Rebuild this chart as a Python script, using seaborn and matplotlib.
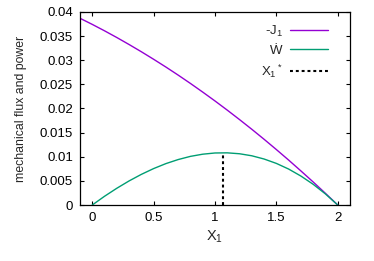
import matplotlib
matplotlib.use("Agg")
import matplotlib.pyplot as plt
import seaborn as sns
import pandas as pd
from matplotlib.ticker import FuncFormatter, MultipleLocator

# values
x1 = [-0.1, 0.0, 0.1, 0.2, 0.3, 0.4, 0.5, 0.6, 0.7, 0.8, 0.9, 1.0,
      1.1, 1.2, 1.3, 1.4, 1.5, 1.6, 1.7, 1.8, 1.9, 2.0]
minus_j1 = [0.0387, 0.03743, 0.0361, 0.03471, 0.03326, 0.03176, 0.0302,
            0.02859, 0.02692, 0.02519, 0.0234, 0.02156, 0.01966, 0.0177,
            0.01569, 0.01362, 0.01149, 0.00931, 0.00706, 0.00477, 0.00241, 0.0]
x1_w = x1[1:]
power = [0.0, 0.00181, 0.00347, 0.00499, 0.00635, 0.00755, 0.00858,
         0.00942, 0.01008, 0.01053, 0.01078, 0.01081, 0.01062, 0.0102,
         0.00953, 0.00862, 0.00745, 0.006, 0.00429, 0.00229, 0.0]
x1_star = 1.067
w_star = 0.01083

df_j = pd.DataFrame({"X1": x1, "val": minus_j1})
df_w = pd.DataFrame({"X1": x1_w, "val": power})
df_s = pd.DataFrame({"X1": [x1_star, x1_star], "val": [0.0, w_star]})

sns.set_style("ticks")
plt.rcParams["font.family"] = ["Liberation Sans", "DejaVu Sans"]
plt.rcParams["mathtext.fontset"] = "custom"
plt.rcParams["mathtext.rm"] = "Liberation Sans"
plt.rcParams["mathtext.it"] = "Liberation Sans:italic"
plt.rcParams["font.size"] = 9.5

fig = plt.figure(figsize=(3.74, 2.61), dpi=100)
ax = fig.add_axes([80/374, 1 - 205/261, 270/374, 193/261])

sns.lineplot(data=df_j, x="X1", y="val", color="#9400d3", lw=1, ax=ax, label="-J$_1$")
sns.lineplot(data=df_w, x="X1", y="val", color="#009e73", lw=1, ax=ax, label="\u1e86")
sns.lineplot(data=df_s, x="X1", y="val", color="black", lw=1.5, ax=ax,
             label="X$_1$$^*$", estimator=None, errorbar=None, sort=False)
star = ax.lines[-1]
star.set_linestyle((0, (1.4, 1.4)))

ax.set_xlim(-0.1, 2.1)
ax.set_ylim(0, 0.04)
ax.xaxis.set_major_locator(MultipleLocator(0.5))
ax.yaxis.set_major_locator(MultipleLocator(0.005))
fmt = FuncFormatter(lambda v, p: "%g" % round(v, 4))
ax.xaxis.set_major_formatter(fmt)
ax.yaxis.set_major_formatter(fmt)
ax.tick_params(direction="in", length=3, width=0.8, top=True, right=True,
               labelsize=9.5, colors="black", pad=5)
for s in ax.spines.values():
    s.set_color("black")
    s.set_linewidth(0.9)
    s.set_visible(True)

ax.set_xlabel("X$_1$", fontsize=10.5, labelpad=3)
ax.set_ylabel("mechanical flux and power", fontsize=8.8, labelpad=9)

leg = ax.legend(loc="upper right", bbox_to_anchor=(0.944, 0.975), frameon=False,
                markerfirst=False, handlelength=2.9, labelspacing=0.45,
                borderpad=0, handletextpad=0.55, fontsize=9.5)

fig.savefig("out.png", dpi=100)
